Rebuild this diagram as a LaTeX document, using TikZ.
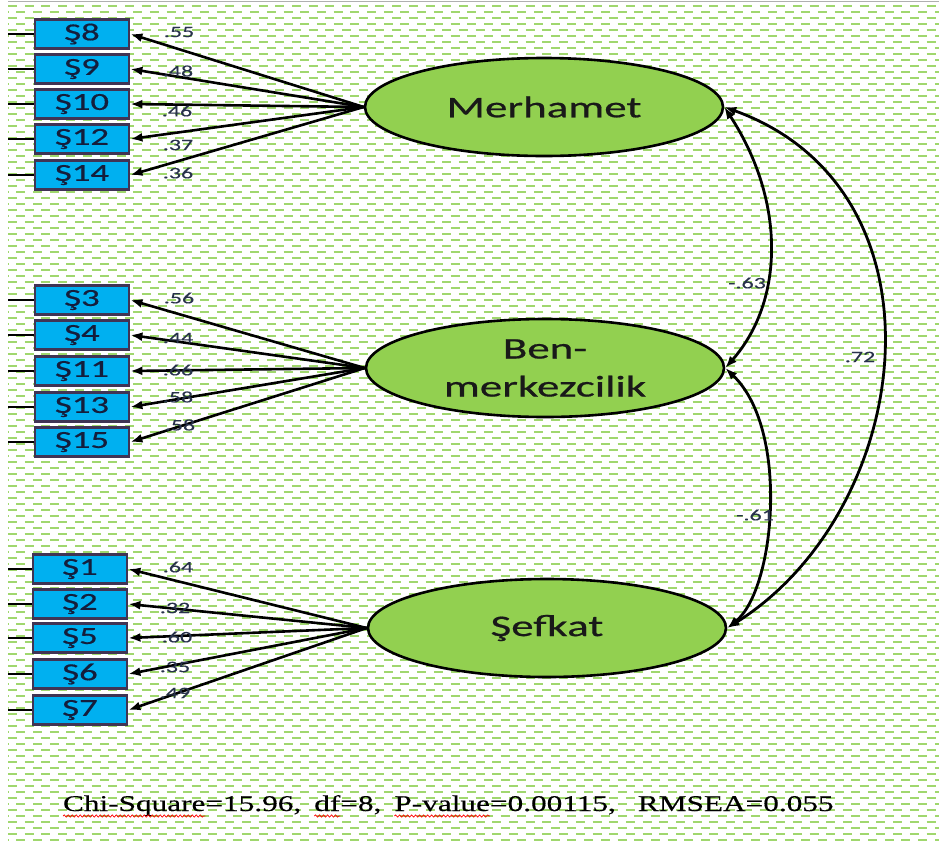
\documentclass[tikz,border=0pt]{standalone}
\usepackage{fontspec}
\setmainfont{Carlito}
\newfontfamily\widefont[FakeStretch=1.5,FakeBold=0.6]{Carlito}
\newfontfamily\coeffont[FakeStretch=1.5,FakeBold=0.3]{Carlito}
\newfontfamily\serifwide[FakeStretch=1.39,FakeBold=0.4]{Liberation Serif}
\usetikzlibrary{shapes.geometric,arrows.meta,decorations.pathmorphing}
\definecolor{patcol}{RGB}{160,215,110}
\definecolor{boxfill}{RGB}{0,176,240}
\definecolor{boxborder}{RGB}{64,52,84}
\definecolor{latfill}{RGB}{146,208,80}
\definecolor{textdark}{RGB}{20,30,60}
\definecolor{coefcol}{RGB}{40,50,75}
\definecolor{topline}{RGB}{175,175,175}
\tikzset{
  item/.style={draw=boxborder, fill=boxfill, line width=2.8pt, minimum width=94pt, minimum height=29pt, inner sep=0pt, font=\widefont\fontsize{24.5}{26}\selectfont, text=textdark},
  latent/.style={ellipse, draw=black, fill=latfill, line width=2.6pt, minimum width=358pt, minimum height=98pt, inner sep=0pt, font=\widefont\fontsize{30}{38}\selectfont, align=center, text=black!90},
  load/.style={-{Latex[length=12pt,width=9pt]}, line width=2.6pt},
  err/.style={line width=1.4pt},
  coef/.style={font=\coeffont\fontsize{16}{18}\selectfont, text=coefcol, inner sep=0pt},
  corr/.style={{Latex[length=12pt,width=9pt]}-{Latex[length=12pt,width=9pt]}, line width=2.8pt},
  patline/.style={draw=patcol, line width=1.3pt, dash pattern=on 9pt off 7.7pt},
  fitseg/.style={font=\serifwide\fontsize{22.5}{26}\selectfont, inner sep=0pt, outer sep=0pt, anchor=base west},
  squig/.style={draw=red, line width=0.7pt, decorate, decoration={snake, amplitude=1.1pt, segment length=4pt}}
}
\begin{document}
\begin{tikzpicture}[x=1pt,y=-1pt]
\useasboundingbox (0,0) rectangle (939,841);
% background pattern
\foreach \i in {0,...,139}{
  \pgfmathsetmacro\yy{6+6*\i}
  \pgfmathsetmacro\off{mod(\i,2)*8.35}
  \draw[patline, dash phase=\off pt] (8,\yy) -- (939,\yy);
}
\coordinate (tl) at (8,1.5);
\coordinate (tr) at (939,1.5);
\draw[topline, line width=1.5pt] (tl) -- (tr);

% latent variables
\node[latent] (M) at (544,107) {Merhamet};
\node[latent] (B) at (545,368) {Ben-\\merkezcilik};
\node[latent] (S) at (547,628) {Şefkat};

% group 1
\foreach \n/\y in {8/34, 9/69, 10/104, 12/139, 14/175}{
  \node[item] (s\n) at (82,\y) {Ş\n};
  \coordinate (e\n) at (8,\y);
  \draw[err] (e\n) -- (s\n.west);
  \draw[load] (M.west) -- (s\n.east);
}
% group 2
\foreach \n/\y in {3/300, 4/335, 11/371, 13/407, 15/442}{
  \node[item] (s\n) at (82,\y) {Ş\n};
  \coordinate (e\n) at (8,\y);
  \draw[err] (e\n) -- (s\n.west);
  \draw[load] (B.west) -- (s\n.east);
}
% group 3
\foreach \n/\y in {1/569, 2/604, 5/638, 6/674, 7/710}{
  \node[item] (s\n) at (80,\y) {Ş\n};
  \coordinate (e\n) at (8,\y);
  \draw[err] (e\n) -- (s\n.west);
  \draw[load] (S.west) -- (s\n.east);
}

% loadings
\node[coef] (c8) at (179,32) {.55};
\node[coef] (c9) at (178,71) {.48};
\node[coef] (c10) at (177,111) {.46};
\node[coef] (c12) at (178,145) {.37};
\node[coef] (c14) at (178,173) {.36};
\node[coef] (c3) at (179,298) {.56};
\node[coef] (c4) at (178,338) {.44};
\node[coef] (c11) at (178,370) {.66};
\node[coef] (c13) at (178,397) {.58};
\node[coef] (c15) at (180,425) {.58};
\node[coef] (c1) at (178,567) {.64};
\node[coef] (c2) at (175,608) {.32};
\node[coef] (c5) at (177,637) {.60};
\node[coef] (c6) at (175,667) {.35};
\node[coef] (c7) at (175,693) {.49};

% correlations
\draw[corr] (M.east) .. controls (785,200) and (785,300) .. (B.east);
\draw[corr] (B.east) .. controls (790,430) and (775,590) .. (S.east);
\draw[corr] (M.east) .. controls (955,190) and (915,510) .. (S.east);
\node[coef] (r1) at (747,283) {-.63};
\node[coef] (r2) at (755,515) {-.61};
\node[coef] (r3) at (860,357) {.72};

% fit statistics
\node[fitseg] (f1) at (63,811) {Chi-Square};
\node[fitseg] (f2) at (f1.base east) {=15.96,\hspace{13pt}\null};
\node[fitseg] (f3) at (f2.base east) {df};
\node[fitseg] (f4) at (f3.base east) {=8,\hspace{13pt}\null};
\node[fitseg] (f5) at (f4.base east) {P-value};
\node[fitseg] (f6) at (f5.base east) {=0.00115,\hspace{22pt}RMSEA=0.055};
\draw[squig] ([yshift=-5pt]f1.base west) -- ([yshift=-5pt]f1.base east);
\draw[squig] ([yshift=-5pt]f3.base west) -- ([yshift=-5pt]f3.base east);
\draw[squig] ([yshift=-5pt]f5.base west) -- ([yshift=-5pt]f5.base east);
\end{tikzpicture}
\end{document}
